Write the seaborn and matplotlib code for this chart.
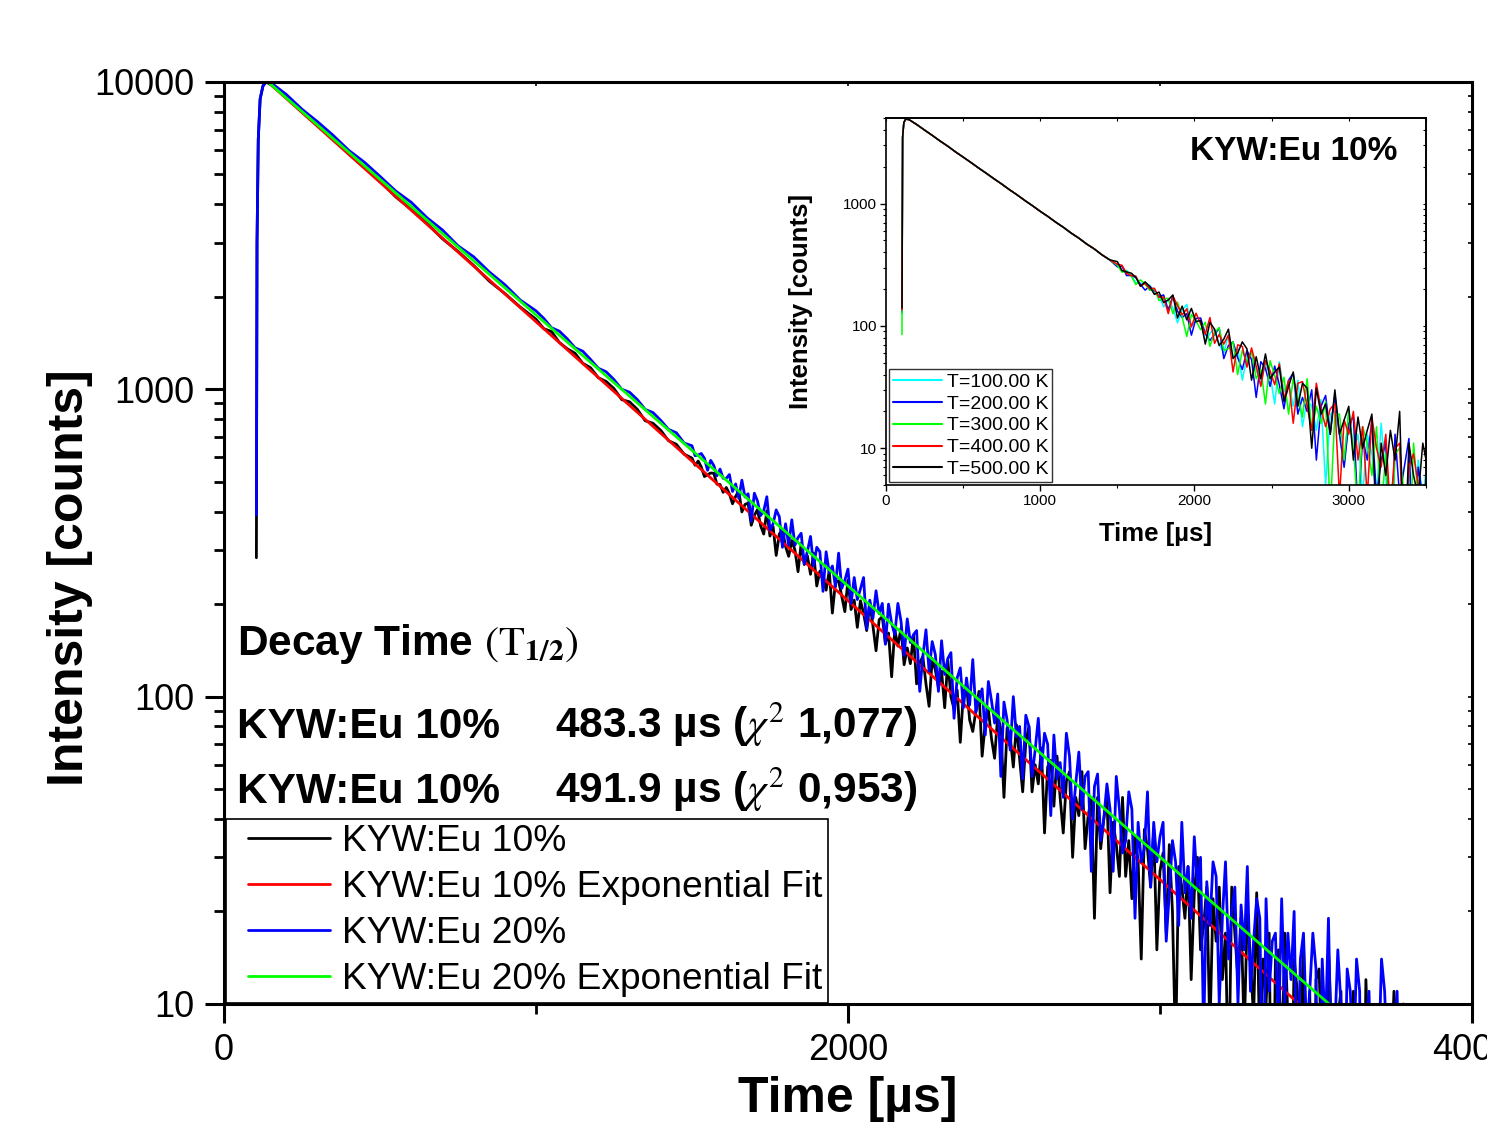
import numpy as np
import matplotlib
matplotlib.use("Agg")
import matplotlib.pyplot as plt
from matplotlib.lines import Line2D
from matplotlib.legend_handler import HandlerLine2D
from matplotlib.ticker import FixedLocator, LogLocator, NullFormatter, FuncFormatter
import seaborn as sns

# ── main panel data ──────────────────────────────────────────────────────────
rise_t = [104, 106, 110, 116, 125, 135]
black_rise = [283, 3000, 6500, 8800, 9700, 10000]
blue_rise = [390, 3000, 6500, 8800, 9700, 10000]

early_t = list(range(150, 1000, 50)) + list(range(1000, 1500, 25))
black_early = [9800, 8950, 8020, 7230, 6540, 5830, 5280, 4770, 4230, 3850,
               3470, 3090, 2810, 2530, 2250, 2050, 1850,
               1690, 1575, 1540, 1420, 1355, 1310, 1215, 1175, 1090, 1060,
               1005, 925, 910, 860, 790, 775, 735, 680, 662, 615]
blue_early = [9950, 9100, 8150, 7420, 6700, 5990, 5480, 4930, 4420, 4060,
              3620, 3300, 2930, 2700, 2410, 2190, 1950,
              1800, 1700, 1585, 1545, 1460, 1365, 1330, 1250, 1170, 1140,
              1075, 1000, 978, 925, 860, 840, 792, 740, 722, 668]

# tail sampled every 10 us from 1500 us
TAIL_T0, TAIL_DT = 1500, 10
black_tail = [597, 566, 584, 558, 520, 527, 534, 533, 491, 490,
              462, 479, 457, 424, 448, 467, 399, 422, 426, 361,
              389, 406, 360, 338, 402, 333, 357, 288, 338, 350,
              308, 286, 322, 300, 255, 315, 269, 287, 250, 293,
              229, 256, 247, 222, 257, 187, 236, 238, 212, 189,
              239, 192, 206, 168, 205, 187, 164, 202, 170, 141,
              178, 182, 149, 161, 116, 165, 146, 167, 127, 144,
              128, 158, 110, 129, 135, 110, 93, 133, 122, 107,
              121, 92, 131, 100, 91, 105, 71, 103, 109, 84,
              77, 90, 104, 64, 82, 91, 73, 63, 87, 78,
              47, 79, 74, 59, 81, 63, 49, 71, 80, 49,
              60, 52, 68, 36, 59, 62, 44, 64, 47, 36,
              53, 57, 30, 47, 41, 57, 32, 41, 47, 19,
              47, 32, 40, 47, 23, 39, 33, 26, 47, 26,
              34, 22, 35, 29, 14, 37, 32, 24, 37, 15,
              27, 31, 17, 33, 20, 7, 28, 24, 19, 28,
              12, 23, 30, 15, 18, 24, 8, 22, 16, 24,
              12, 17, 5, 24, 17, 12, 19, 8, 20, 14,
              9, 23, 7, 14, 10, 17, 2, 14, 15, 6,
              17, 9, 3, 14, 11, 7, 16, 4, 11, 2,
              12, 13, 6, 3, 15, 8, 5, 9, 11, 2,
              8, 6, 11, 3, 9, 2, 12, 6, 4, 9,
              2, 7, 9, 1, 6, 11, 4, 2, 10]
blue_tail = [655, 608, 611, 618, 596, 545, 587, 565, 523, 550,
             513, 513, 528, 465, 492, 442, 506, 446, 457, 372,
             459, 433, 388, 402, 447, 348, 365, 405, 385, 306,
             365, 311, 376, 311, 329, 340, 270, 297, 332, 266,
             306, 296, 220, 296, 253, 266, 228, 293, 225, 239,
             260, 201, 244, 207, 224, 244, 166, 206, 180, 221,
             186, 201, 148, 200, 173, 159, 201, 176, 136, 179,
             150, 159, 164, 104, 135, 165, 121, 151, 137, 104,
             152, 118, 133, 139, 85, 115, 124, 92, 115, 94,
             132, 89, 98, 106, 75, 112, 97, 82, 102, 55,
             96, 84, 67, 100, 74, 80, 54, 87, 80, 55,
             67, 85, 58, 76, 70, 41, 75, 54, 61, 47,
             76, 64, 40, 52, 66, 43, 55, 57, 27, 51,
             56, 34, 40, 52, 43, 27, 55, 43, 31, 34,
             49, 43, 19, 39, 29, 32, 49, 24, 39, 29,
             35, 39, 16, 23, 34, 29, 18, 39, 23, 28,
             19, 35, 24, 30, 8, 25, 18, 29, 26, 10,
             19, 29, 14, 20, 24, 10, 21, 15, 28, 11,
             16, 22, 19, 4, 22, 11, 16, 17, 8, 22,
             10, 17, 12, 20, 5, 14, 17, 8, 11, 17,
             13, 2, 14, 8, 19, 6, 8, 15, 10, 4,
             13, 11, 6, 14, 11, 1, 8, 11, 4, 8,
             6, 14, 11, 6, 2, 8, 11, 4, 8]

fit10_t, fit10_vals = [150, 3446], [9800, 10]
fit20_t, fit20_vals = [141, 3542], [10000, 10]

main_labels = ["KYW:Eu 10%", "KYW:Eu 10% Exponential Fit",
               "KYW:Eu 20%", "KYW:Eu 20% Exponential Fit"]
main_colors = ["#000000", "#FF0000", "#0000FF", "#00FF00"]

# ── inset data ───────────────────────────────────────────────────────────────
inset_labels = ["T=100.00 K", "T=200.00 K", "T=300.00 K", "T=400.00 K", "T=500.00 K"]
inset_colors = ["#00FFFF", "#0000FF", "#00FF00", "#FF0000", "#000000"]
inset_start = [125, 130, 85, 135, 140]          # value at t = 104 us
inset_head_t = [108, 116, 128] + list(range(150, 1451, 50))
inset_head = [3500, 4600, 4900, 4850, 4420, 3990, 3610, 3250, 2950, 2650,
              2400, 2170, 1955, 1770, 1595, 1445, 1300, 1178, 1060, 960,
              864, 784, 705, 640, 574, 522, 468, 426, 381, 347]
IN_T0, IN_DT = 1500, 30
cyan_tail = [313, 280, 284, 258, 226, 223, 222, 215, 183, 177,
             143, 165, 140, 106, 134, 150, 100, 110, 110, 74,
             87, 94, 71, 60, 84, 56, 66, 36, 56, 61,
             43, 35, 49, 40, 23, 51, 29, 35, 22, 36,
             15, 25, 22, 14, 25, 5, 19, 20, 13, 7,
             21, 9, 13, 4, 13, 9, 4, 16, 6, 1,
             9, 10, 3, 6, 1, 8, 4, 8]
blue_in_tail = [304, 308, 258, 258, 249, 218, 196, 211, 194, 174,
                179, 135, 176, 132, 117, 126, 84, 115, 116, 86,
                76, 85, 96, 54, 69, 74, 55, 44, 63, 53,
                26, 51, 45, 32, 47, 33, 21, 36, 41, 19,
                26, 20, 30, 8, 22, 27, 13, 27, 13, 7,
                16, 18, 3, 12, 8, 17, 4, 8, 11, 1,
                13, 4, 7, 12, 1, 7, 4, 1]
green_in_tail = [313, 275, 280, 255, 218, 238, 219, 195, 202, 161,
                 167, 168, 126, 156, 118, 82, 124, 110, 93, 107,
                 68, 88, 97, 63, 65, 74, 40, 63, 50, 62,
                 37, 44, 23, 52, 39, 28, 38, 19, 37, 26,
                 18, 37, 14, 22, 16, 24, 3, 19, 19, 8,
                 20, 10, 3, 15, 11, 6, 15, 3, 9, 1,
                 9, 10, 4, 1, 11, 4, 2, 5]
red_in_tail = [319, 313, 268, 258, 255, 211, 223, 201, 203, 171,
               172, 126, 175, 147, 123, 138, 98, 127, 104, 86,
               117, 72, 85, 71, 84, 42, 70, 68, 46, 66,
               47, 32, 52, 43, 33, 49, 25, 36, 16, 34,
               35, 22, 14, 34, 21, 15, 21, 23, 4, 17,
               13, 20, 8, 15, 4, 18, 10, 7, 13, 3,
               10, 11, 1, 7, 9, 5, 2, 10]
black_in_tail = [335, 283, 276, 270, 249, 211, 229, 210, 181, 189,
                 155, 163, 179, 116, 145, 112, 139, 108, 111, 71,
                 107, 94, 69, 78, 94, 54, 60, 74, 65, 36,
                 56, 37, 59, 37, 42, 46, 24, 32, 42, 22,
                 34, 31, 10, 31, 19, 23, 13, 30, 13, 17,
                 22, 8, 18, 10, 14, 19, 2, 11, 6, 14,
                 8, 20, 1, 11, 6, 4, 11, 7]
inset_tails = [cyan_tail, blue_in_tail, green_in_tail, red_in_tail, black_in_tail]

# ── style ────────────────────────────────────────────────────────────────────
sns.set_theme(style="ticks", rc={"axes.edgecolor": "black", "xtick.color": "black",
                                 "ytick.color": "black", "text.color": "black",
                                 "axes.labelcolor": "black"})
plt.rcParams["font.family"] = ["Liberation Sans", "DejaVu Sans"]
plt.rcParams["mathtext.fontset"] = "stix"

fig = plt.figure(figsize=(14.87, 11.33), dpi=100)
ax = fig.add_axes([0.1506, 0.1139, 0.8393, 0.8138])


def tail_times(vals, t0, dt):
    return t0 + dt * np.arange(len(vals))


# ── main curves ──────────────────────────────────────────────────────────────
t_black = np.concatenate([rise_t, early_t, tail_times(black_tail, TAIL_T0, TAIL_DT)])
y_black = np.concatenate([black_rise, black_early, black_tail])
t_blue = np.concatenate([rise_t, early_t, tail_times(blue_tail, TAIL_T0, TAIL_DT)])
y_blue = np.concatenate([blue_rise, blue_early, blue_tail])

series = [(t_black, y_black), (fit10_t, fit10_vals), (t_blue, y_blue), (fit20_t, fit20_vals)]
for (x, y), c in zip(series, main_colors):
    sns.lineplot(x=np.asarray(x, float), y=np.asarray(y, float), ax=ax, color=c,
                 linewidth=2.0, estimator=None, sort=False)

ax.set_yscale("log")
ax.set_xlim(0, 4000)
ax.set_ylim(10, 10000)
ax.xaxis.set_major_locator(FixedLocator([0, 2000, 4000]))
ax.xaxis.set_minor_locator(FixedLocator([1000, 3000]))
ax.yaxis.set_major_locator(LogLocator(base=10, numticks=10))
ax.yaxis.set_minor_locator(LogLocator(base=10, subs=np.arange(2, 10), numticks=40))
ax.yaxis.set_major_formatter(FuncFormatter(lambda v, p: f"{v:.0f}"))
ax.yaxis.set_minor_formatter(NullFormatter())
for s in ax.spines.values():
    s.set_linewidth(2.2)
ax.tick_params(which="major", direction="out", length=14, width=2.2, labelsize=26, pad=7)
ax.tick_params(which="minor", direction="out", length=7, width=2.0)

top = ax.secondary_xaxis("top")
top.xaxis.set_major_locator(FixedLocator([0, 1000, 2000, 3000, 4000]))
top.tick_params(direction="in", length=3, width=1.2, labeltop=False)
right = ax.secondary_yaxis("right")
right.tick_params(which="both", direction="in", length=3, width=1.2, labelright=False)

ax.set_xlabel("Time [µs]", fontsize=36, fontweight="bold")
ax.set_ylabel("Intensity [counts]", fontsize=36, fontweight="bold")
ax.xaxis.set_label_coords(0.5, -0.078)
ax.yaxis.set_label_coords(-0.105, 0.4626)

# ── annotation text ──────────────────────────────────────────────────────────
txt = dict(transform=ax.transAxes, fontsize=30.5, fontweight="bold", va="baseline")
ax.text(0.0104, 0.3785, r"Decay Time $(\mathrm{T}_{\mathbf{1/2}})$", **txt)
ax.text(0.0104, 0.2885, "KYW:Eu 10%", **txt)
ax.text(0.2652, 0.2885, r"483.3 µs ($\chi^{2}$ 1,077)", **txt)
ax.text(0.0104, 0.2180, "KYW:Eu 10%", **txt)
ax.text(0.2652, 0.2180, r"491.9 µs ($\chi^{2}$ 0,953)", **txt)

handles = [Line2D([], [], color=c, lw=2.0) for c in main_colors]
leg = ax.legend(handles, main_labels, loc="lower left", bbox_to_anchor=(0.0016, 0.001),
                borderaxespad=0, fontsize=26.7, frameon=True, fancybox=False,
                edgecolor="black", framealpha=1, handlelength=2.66, handletextpad=0.32,
                labelspacing=0.30, borderpad=0.15,
                handler_map={Line2D: HandlerLine2D(xpad=0.45)})
leg.get_frame().set_linewidth(1.2)
leg.set_zorder(2.4)

# ── inset ────────────────────────────────────────────────────────────────────
axi = fig.add_axes([0.5958, 0.5719, 0.3631, 0.3239])
for start, tail, c in zip(inset_start, inset_tails, inset_colors):
    x = np.concatenate([[104], inset_head_t, tail_times(tail, IN_T0, IN_DT)])
    y = np.concatenate([[start], inset_head, tail])
    sns.lineplot(x=x.astype(float), y=y.astype(float), ax=axi, color=c,
                 linewidth=1.1, estimator=None, sort=False)

axi.set_yscale("log")
axi.set_xlim(0, 3500)
axi.set_ylim(5, 5000)
axi.xaxis.set_major_locator(FixedLocator([0, 1000, 2000, 3000]))
axi.xaxis.set_minor_locator(FixedLocator([500, 1500, 2500, 3500]))
axi.yaxis.set_major_locator(FixedLocator([10, 100, 1000]))
axi.yaxis.set_minor_locator(LogLocator(base=10, subs=np.arange(2, 10), numticks=40))
axi.yaxis.set_major_formatter(FuncFormatter(lambda v, p: f"{v:.0f}"))
axi.yaxis.set_minor_formatter(NullFormatter())
for s in axi.spines.values():
    s.set_linewidth(1.2)
axi.tick_params(which="major", direction="out", length=4.5, width=1.0, labelsize=11, pad=2)
axi.tick_params(which="minor", direction="out", length=2.5, width=0.8)
itop = axi.secondary_xaxis("top")
itop.xaxis.set_major_locator(FixedLocator([0, 500, 1000, 1500, 2000, 2500, 3000, 3500]))
itop.tick_params(direction="in", length=2, width=0.8, labeltop=False)
iright = axi.secondary_yaxis("right")
iright.tick_params(which="both", direction="in", length=2, width=0.8, labelright=False)

axi.set_xlabel("Time [µs]", fontsize=18.5, fontweight="bold")
axi.set_ylabel("Intensity [counts]", fontsize=18.5, fontweight="bold")
axi.xaxis.set_label_coords(0.5, -0.10)
axi.yaxis.set_label_coords(-0.135, 0.5)
axi.text(0.948, 0.8856, "KYW:Eu 10%", transform=axi.transAxes, fontsize=24,
         fontweight="bold", ha="right", va="baseline")

ihandles = [Line2D([], [], color=c, lw=1.5) for c in inset_colors]
ileg = axi.legend(ihandles, inset_labels, loc="lower left", bbox_to_anchor=(0.006, 0.008),
                  borderaxespad=0, fontsize=14, frameon=True, fancybox=False,
                  edgecolor="#333333", framealpha=1, handlelength=2.5, handletextpad=0.27,
                  labelspacing=0.22, borderpad=0.2)
ileg.get_frame().set_linewidth(1.0)

fig.savefig("out.png", dpi=100)
